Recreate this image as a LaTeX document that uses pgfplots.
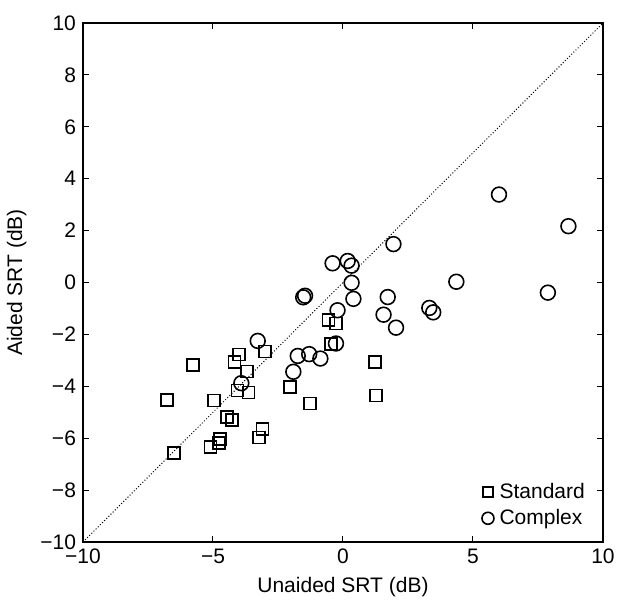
\documentclass[border=0pt]{standalone}
\usepackage{fontspec}
\setmainfont{Liberation Sans}
\usepackage{pgfplots}
\pgfplotsset{compat=1.18}
\begin{document}
\begin{tikzpicture}
\useasboundingbox (-41.5pt,-30pt) rectangle (267pt,271pt);
\begin{axis}[
  at={(0pt,0pt)}, anchor=south west,
  scale only axis,
  width=260pt, height=259.5pt,
  xmin=-10, xmax=10, ymin=-10, ymax=10,
  xtick={-10,-5,0,5,10},
  xticklabels={−10,−5,0,5,10},
  ytick={-10,-8,-6,-4,-2,0,2,4,6,8,10},
  yticklabels={−10,−8,−6,−4,−2,0,2,4,6,8,10},
  tick align=inside,
  major tick length=3pt,
  tick style={black, line width=0.5pt},
  axis line style={black, line width=0.8pt},
  tick label style={font=\fontsize{10.5pt}{12pt}\selectfont},
  label style={font=\fontsize{10.5pt}{12pt}\selectfont},
  xlabel={Unaided SRT (dB)},
  ylabel={Aided SRT (dB)},
  legend style={at={(0.985,0.012)}, anchor=south east, draw=none, fill=none,
    font=\fontsize{10.5pt}{12pt}\selectfont, row sep=0pt,
    nodes={inner xsep=2pt}},
  legend cell align=left,
  clip=false,
]
\addplot[black, densely dotted, line width=0.5pt, forget plot] coordinates {(-10,-10) (10,10)};
\addplot[only marks, mark=square, mark size=3pt, mark options={line width=0.8pt, black},
  legend image code/.code={\path[draw=none,fill=none] (0cm,0cm) rectangle (0.2cm+3.8pt,0cm); \draw[only marks, mark size=2.4pt, line width=0.6pt, black] plot coordinates {(0.2cm,0cm)};}] coordinates {
(-5.77,-3.18) (-6.77,-4.52) (-6.49,-6.58) (-4.00,-2.78) (-4.17,-3.07) (-3.69,-3.43)
(-4.06,-4.16) (-3.63,-4.24) (-4.96,-4.55) (-4.45,-5.19) (-4.26,-5.29) (-4.73,-6.03)
(-4.77,-6.19) (-5.10,-6.35) (-3.10,-5.65) (-3.23,-5.98) (-2.99,-2.66) (-2.04,-4.02)
(-0.56,-1.45) (-0.27,-1.58) (-0.45,-2.38) (1.23,-3.07) (1.26,-4.35) (-1.28,-4.67)
};
\addlegendentry{Standard}
\addplot[only marks, mark=o, mark size=3.7pt, mark options={line width=0.8pt, black},
  legend image code/.code={\path[draw=none,fill=none] (0cm,0cm) rectangle (0.2cm+3.8pt,0cm); \draw[only marks, mark size=3pt, line width=0.6pt, black] plot coordinates {(0.2cm,0cm)};}] coordinates {
(-3.28,-2.25) (-3.91,-3.88) (1.94,1.48) (-0.40,0.74) (0.18,0.83) (0.33,0.65)
(0.33,-0.01) (0.40,-0.63) (-1.46,-0.51) (-1.53,-0.57) (-0.21,-1.07) (1.72,-0.56)
(1.56,-1.24) (2.04,-1.74) (-0.27,-2.35) (-1.74,-2.83) (-1.30,-2.76) (-0.87,-2.93)
(-1.91,-3.44) (6.00,3.39) (8.67,2.17) (4.36,0.03) (7.88,-0.39) (3.32,-0.98) (3.47,-1.15)
};
\addlegendentry{Complex}
\end{axis}
\end{tikzpicture}
\end{document}
